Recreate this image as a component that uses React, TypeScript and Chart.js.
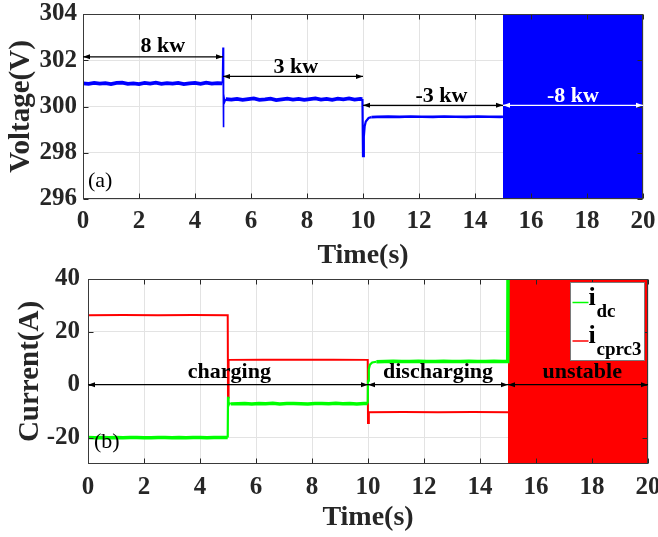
import React, { useEffect, useRef } from 'react';
import { Chart, registerables } from 'chart.js';

Chart.register(...registerables);

const SERIF = '"Liberation Serif", "Times New Roman", Times, serif';
const AXIS = '#262626';
const GRID = '#e3e3e3';

// ---------- shared ----------
const timeTicks = [0, 2, 4, 6, 8, 10, 12, 14, 16, 18, 20];

// ---------- panel (a): DC voltage ----------
const voltageTicks = [296, 298, 300, 302, 304];
const voltTime = [
  0, 0.2, 0.4, 0.6, 0.8, 1.0, 1.2, 1.4, 1.6, 1.8, 2.0, 2.2, 2.4, 2.6, 2.8, 3.0, 3.2, 3.4, 3.6, 3.8, 4.0, 4.2, 4.4, 4.6, 4.8, 4.98,
  5.0, 5.01, 5.03, 5.06, 5.1,
  5.3, 5.5, 5.7, 5.9, 6.1, 6.3, 6.5, 6.7, 6.9, 7.1, 7.3, 7.5, 7.7, 7.9, 8.1, 8.3, 8.5, 8.7, 8.9, 9.1, 9.3, 9.5, 9.7, 9.9, 9.98,
  10.0, 10.03, 10.06, 10.1, 10.2, 10.3, 10.5,
  10.9, 11.3, 11.7, 12.1, 12.5, 12.9, 13.3, 13.7, 14.1, 14.5, 14.9, 15.0,
];
const voltValue = [
  301.0, 300.98, 301.02, 300.99, 301.01, 300.97, 301.02, 301.03, 300.98, 301.0, 300.97, 301.02, 300.99, 301.03, 300.98, 301.01, 300.99, 301.02, 300.97, 301.0, 301.02, 300.98, 301.03, 300.99, 301.01, 301.0,
  302.55, 299.1, 300.55, 300.2, 300.32,
  300.3, 300.33, 300.29, 300.32, 300.35, 300.29, 300.31, 300.34, 300.28, 300.31, 300.34, 300.3, 300.33, 300.29, 300.32, 300.35, 300.3, 300.33, 300.29, 300.34, 300.31, 300.35, 300.3, 300.33, 300.32,
  297.85, 298.7, 299.15, 299.35, 299.5, 299.54, 299.55,
  299.56, 299.55, 299.57, 299.56, 299.55, 299.57, 299.56, 299.55, 299.57, 299.56, 299.55, 299.56,
];
const voltUnstableTime = [15, 20];
const voltUnstableUpper = [304, 304];
const voltUnstableLower = 296;

const powerLabels = ['8 kw', '3 kw', '-3 kw', '-8 kw'];
const powerStart = [0, 5, 10, 15];
const powerEnd = [5, 10, 15, 20];
const powerArrowV = [302.15, 301.3, 300.05, 300.05];
const powerLabelT = [2.85, 7.6, 12.8, 17.5];
const powerLabelV = [302.37, 301.46, 300.21, 300.21];
const powerColors = ['#000000', '#000000', '#000000', '#ffffff'];

// ---------- panel (b): currents ----------
const currentTicks = [-20, 0, 20, 40];
const currentMin = -30;
const currentMax = 40;
const idcTime = [
  0, 0.25, 0.5, 0.75, 1.0, 1.25, 1.5, 1.75, 2.0, 2.25, 2.5, 2.75, 3.0, 3.25, 3.5, 3.75, 4.0, 4.25, 4.5, 4.75, 4.99,
  5.0, 5.02, 5.05, 5.1,
  5.35, 5.6, 5.85, 6.1, 6.35, 6.6, 6.85, 7.1, 7.35, 7.6, 7.85, 8.1, 8.35, 8.6, 8.85, 9.1, 9.35, 9.6, 9.85, 9.99,
  10.0, 10.03, 10.07, 10.15, 10.3,
  10.6, 10.9, 11.2, 11.5, 11.8, 12.1, 12.4, 12.7, 13.0, 13.3, 13.6, 13.9, 14.2, 14.5, 14.8, 14.99,
  15.0,
];
const idcValue = [
  -20.0, -20.1, -19.95, -20.05, -19.95, -20.1, -20.0, -19.95, -20.05, -20.1, -19.95, -20.0, -20.05, -19.95, -20.1, -20.0, -19.95, -20.05, -20.0, -19.95, -20.0,
  -4.6, -7.8, -7.0, -7.25,
  -7.2, -7.1, -7.25, -7.15, -7.2, -7.05, -7.25, -7.15, -7.1, -7.2, -7.25, -7.1, -7.15, -7.2, -7.05, -7.2, -7.15, -7.25, -7.1, -7.15,
  1.5, 6.0, 7.6, 8.4, 8.7,
  8.8, 8.85, 8.75, 8.8, 8.85, 8.8, 8.75, 8.85, 8.8, 8.8, 8.85, 8.75, 8.8, 8.85, 8.8, 8.8,
  40,
];
const icprcTime = [0, 1.25, 2.5, 3.75, 4.99, 5.0, 5.02, 6.25, 7.5, 8.75, 9.99, 10.0, 10.03, 11.25, 12.5, 13.75, 15.0];
const icprcValue = [26.3, 26.35, 26.3, 26.35, 26.3, -4.8, 9.4, 9.45, 9.4, 9.45, 9.4, -14.5, -10.4, -10.35, -10.4, -10.35, -10.4];
const currentUnstableTime = [15, 20];
const currentUnstableUpper = [40, 40];
const currentUnstableLower = -30;

const modeLabels = ['charging', 'discharging', 'unstable'];
const modeStart = [0, 10, 15];
const modeEnd = [10, 15, 20];
const modeLabelT = [5.05, 12.5, 17.65];
const modeArrowI = 0;
const modeLabelI = 2.4;

const legendNames = ['dc', 'cprc3'];
const legendColors = ['#00ff00', '#ff0000'];

// ---------- helpers ----------
function pts(t: number[], v: number[]) {
  return t.map((x, i) => ({ x, y: v[i] }));
}

function drawArrow(ctx: CanvasRenderingContext2D, x1: number, x2: number, y: number, color: string) {
  ctx.save();
  ctx.strokeStyle = color;
  ctx.fillStyle = color;
  ctx.lineWidth = 1.2;
  ctx.beginPath();
  ctx.moveTo(x1, y);
  ctx.lineTo(x2, y);
  ctx.stroke();
  const L = 7;
  const H = 2.5;
  ctx.beginPath();
  ctx.moveTo(x1, y);
  ctx.lineTo(x1 + L, y - H);
  ctx.lineTo(x1 + L, y + H);
  ctx.closePath();
  ctx.fill();
  ctx.beginPath();
  ctx.moveTo(x2, y);
  ctx.lineTo(x2 - L, y - H);
  ctx.lineTo(x2 - L, y + H);
  ctx.closePath();
  ctx.fill();
  ctx.restore();
}

const framePlugin = {
  id: 'matlabFrame',
  afterDatasetsDraw(chart: any) {
    const { ctx, chartArea: a, scales } = chart;
    const l = Math.round(a.left) + 0.5;
    const r = Math.round(a.right) - 0.5;
    const t = Math.round(a.top) + 0.5;
    const b = Math.round(a.bottom) - 0.5;
    ctx.save();
    ctx.strokeStyle = AXIS;
    ctx.lineWidth = 1;
    ctx.beginPath();
    scales.x.ticks.forEach((tk: any) => {
      const px = Math.round(scales.x.getPixelForValue(tk.value)) + 0.5;
      ctx.moveTo(px, b);
      ctx.lineTo(px, b - 5);
      ctx.moveTo(px, t);
      ctx.lineTo(px, t + 5);
    });
    scales.y.ticks.forEach((tk: any) => {
      const py = Math.round(scales.y.getPixelForValue(tk.value)) + 0.5;
      ctx.moveTo(l, py);
      ctx.lineTo(l + 5, py);
      ctx.moveTo(r, py);
      ctx.lineTo(r - 5, py);
    });
    ctx.stroke();
    ctx.strokeStyle = '#3a3a3a';
    ctx.strokeRect(l, t, r - l, b - t);
    ctx.restore();
  },
};

const voltAnnotPlugin = {
  id: 'voltAnnot',
  afterDatasetsDraw(chart: any) {
    const { ctx, chartArea: a, scales } = chart;
    const xs = scales.x;
    const ys = scales.y;
    powerLabels.forEach((lab, i) => {
      const x1 = xs.getPixelForValue(powerStart[i]);
      const x2 = xs.getPixelForValue(powerEnd[i]);
      drawArrow(ctx, x1, x2, ys.getPixelForValue(powerArrowV[i]), powerColors[i]);
      ctx.save();
      ctx.fillStyle = powerColors[i];
      ctx.font = `bold 22px ${SERIF}`;
      ctx.textAlign = 'center';
      ctx.textBaseline = 'alphabetic';
      ctx.fillText(lab, xs.getPixelForValue(powerLabelT[i]), ys.getPixelForValue(powerLabelV[i]));
      ctx.restore();
    });
    ctx.save();
    ctx.fillStyle = '#000';
    ctx.font = `22px ${SERIF}`;
    ctx.textAlign = 'left';
    ctx.textBaseline = 'middle';
    ctx.fillText('(a)', a.left + 5, a.bottom - 18);
    ctx.restore();
  },
};

const currentAnnotPlugin = {
  id: 'currentAnnot',
  afterDatasetsDraw(chart: any) {
    const { ctx, chartArea: a, scales } = chart;
    const xs = scales.x;
    const ys = scales.y;
    const ay = ys.getPixelForValue(modeArrowI);
    modeLabels.forEach((lab, i) => {
      drawArrow(ctx, xs.getPixelForValue(modeStart[i]), xs.getPixelForValue(modeEnd[i]), ay, '#000');
      ctx.save();
      ctx.fillStyle = '#000';
      ctx.font = `bold 22px ${SERIF}`;
      ctx.textAlign = 'center';
      ctx.textBaseline = 'alphabetic';
      ctx.fillText(lab, xs.getPixelForValue(modeLabelT[i]), ys.getPixelForValue(modeLabelI));
      ctx.restore();
    });
    ctx.save();
    ctx.fillStyle = '#000';
    ctx.font = `22px ${SERIF}`;
    ctx.textAlign = 'left';
    ctx.textBaseline = 'middle';
    ctx.fillText('(b)', a.left + 6, a.bottom - 22);
    ctx.restore();

    // legend with subscripts
    const bw = 74;
    const bh = 78;
    const bl = Math.round(a.right - 78) + 0.5;
    const bt = Math.round(a.top + 3) + 0.5;
    ctx.save();
    ctx.fillStyle = '#ffffff';
    ctx.fillRect(bl, bt, bw, bh);
    ctx.strokeStyle = '#7a7a7a';
    ctx.lineWidth = 1;
    ctx.strokeRect(bl, bt, bw, bh);
    legendNames.forEach((name, i) => {
      const oy = bt + i * 38.5;
      ctx.strokeStyle = legendColors[i];
      ctx.lineWidth = 1.5;
      ctx.beginPath();
      ctx.moveTo(bl + 2, oy + 20);
      ctx.lineTo(bl + 18, oy + 20);
      ctx.stroke();
      ctx.fillStyle = '#000';
      ctx.textAlign = 'left';
      ctx.textBaseline = 'alphabetic';
      ctx.font = `bold 26px ${SERIF}`;
      ctx.fillText('i', bl + 18, oy + 22);
      ctx.font = `bold 19px ${SERIF}`;
      ctx.fillText(name, bl + 26, oy + 34);
    });
    ctx.restore();
  },
};

function tickFont(size: number) {
  return { family: SERIF, size, weight: 'bold' as const, lineHeight: 1 };
}

function makeScales(opts: {
  yTicks: number[];
  yMin: number;
  yMax: number;
  yWidth: number;
  xHeight: number;
  yTitle: string;
  yTitlePad: number;
  yTickPad: number;
  xTickPad: number;
  xTitlePad: number;
}) {
  return {
    x: {
      type: 'linear' as const,
      min: 0,
      max: 20,
      afterBuildTicks: (s: any) => {
        s.ticks = timeTicks.map((v) => ({ value: v }));
      },
      afterFit: (s: any) => {
        s.height = opts.xHeight;
        s.paddingLeft = 0;
        s.paddingRight = 0;
      },
      grid: { color: GRID, lineWidth: 1, drawTicks: false },
      border: { display: false },
      ticks: {
        font: tickFont(25),
        color: AXIS,
        padding: opts.xTickPad,
        maxRotation: 0,
        autoSkip: false,
      },
      title: {
        display: true,
        text: 'Time(s)',
        color: AXIS,
        font: { family: SERIF, size: 28, weight: 'bold' as const, lineHeight: 1 },
        padding: { top: 0, bottom: opts.xTitlePad },
      },
    },
    y: {
      type: 'linear' as const,
      min: opts.yMin,
      max: opts.yMax,
      afterBuildTicks: (s: any) => {
        s.ticks = opts.yTicks.map((v) => ({ value: v }));
      },
      afterFit: (s: any) => {
        s.width = opts.yWidth;
        s.paddingTop = 0;
        s.paddingBottom = 0;
      },
      grid: { color: GRID, lineWidth: 1, drawTicks: false },
      border: { display: false },
      ticks: {
        font: tickFont(25),
        color: AXIS,
        padding: opts.yTickPad,
        autoSkip: false,
      },
      title: {
        display: true,
        text: opts.yTitle,
        color: AXIS,
        font: { family: SERIF, size: 29, weight: 'bold' as const, lineHeight: 1 },
        padding: { top: opts.yTitlePad, bottom: 0 },
      },
    },
  };
}

const thinNear = (lo: number, hi: number) => (c: any) => {
  const x0 = c.p0.parsed.x;
  return x0 >= lo && x0 < hi;
};
const thinAt5 = thinNear(4.97, 5.1);
const thinAt10 = thinNear(9.97, 10.3);

export default function App() {
  const topRef = useRef<HTMLCanvasElement>(null);
  const botRef = useRef<HTMLCanvasElement>(null);

  useEffect(() => {
    document.body.style.margin = '0';
    const common = {
      animation: false as const,
      responsive: false,
      devicePixelRatio: 1,
      events: [] as any[],
    };
    const top = new Chart(topRef.current!, {
      type: 'line',
      data: {
        datasets: [
          {
            data: pts(voltTime, voltValue),
            borderColor: '#0000ff',
            borderWidth: 3.5,
            pointRadius: 0,
            fill: false,
            tension: 0,
            segment: {
              borderWidth: (c: any) =>
                thinAt5(c) ? 1.6 : thinAt10(c) ? 2.2 : c.p0.parsed.x >= 10.3 ? 2.6 : 3.8,
            },
          },
          {
            data: pts(voltUnstableTime, voltUnstableUpper),
            borderColor: '#0000ff',
            backgroundColor: '#0000ff',
            borderWidth: 0,
            pointRadius: 0,
            fill: { value: voltUnstableLower },
          },
        ],
      },
      options: {
        ...common,
        layout: { padding: { left: 0, right: 15, top: 14, bottom: 0 } },
        plugins: { legend: { display: false }, tooltip: { enabled: false } },
        scales: makeScales({
          yTicks: voltageTicks,
          yMin: 296,
          yMax: 304,
          yWidth: 83,
          xHeight: 71,
          yTitle: 'Voltage(V)',
          yTitlePad: 7,
          yTickPad: 6,
          xTickPad: 10,
          xTitlePad: 0,
        }),
      } as any,
      plugins: [framePlugin, voltAnnotPlugin],
    });

    const bot = new Chart(botRef.current!, {
      type: 'line',
      data: {
        datasets: [
          {
            data: pts(idcTime, idcValue),
            borderColor: '#00ff00',
            borderWidth: 3.5,
            pointRadius: 0,
            fill: false,
            tension: 0,
            segment: {
              borderWidth: (c: any) => (thinAt5(c) || thinAt10(c) ? 2.2 : 3.5),
            },
          },
          {
            data: pts(icprcTime, icprcValue),
            borderColor: '#ff0000',
            borderWidth: 2,
            pointRadius: 0,
            fill: false,
            tension: 0,
          },
          {
            data: pts(currentUnstableTime, currentUnstableUpper),
            borderColor: '#ff0000',
            backgroundColor: '#ff0000',
            borderWidth: 0,
            pointRadius: 0,
            fill: { value: currentUnstableLower },
          },
        ],
      },
      options: {
        ...common,
        layout: { padding: { left: 0, right: 10, top: 29, bottom: 0 } },
        plugins: { legend: { display: false }, tooltip: { enabled: false } },
        scales: makeScales({
          yTicks: currentTicks,
          yMin: currentMin,
          yMax: currentMax,
          yWidth: 88,
          xHeight: 73,
          yTitle: 'Current(A)',
          yTitlePad: 16,
          yTickPad: 8,
          xTickPad: 11,
          xTitlePad: 5,
        }),
      } as any,
      plugins: [framePlugin, currentAnnotPlugin],
    });

    return () => {
      top.destroy();
      bot.destroy();
    };
  }, []);

  return (
    <div style={{ width: 658, height: 537, background: '#ffffff', position: 'relative', overflow: 'hidden' }}>
      <canvas
        ref={topRef}
        width={658}
        height={270}
        style={{ display: 'block', position: 'absolute', left: 0, top: 0 }}
      />
      <canvas
        ref={botRef}
        width={658}
        height={287}
        style={{ display: 'block', position: 'absolute', left: 0, top: 250 }}
      />
    </div>
  );
}
